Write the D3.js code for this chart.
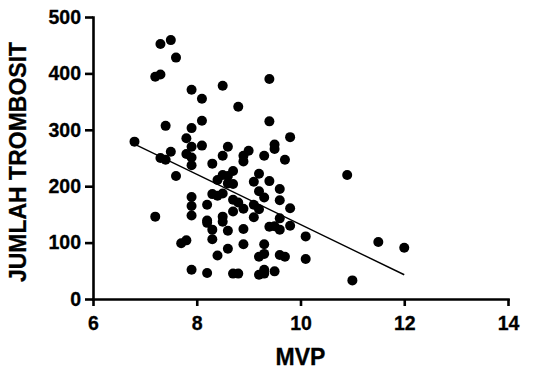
<!DOCTYPE html>
<html>
<head>
<meta charset="utf-8">
<script src="https://cdn.jsdelivr.net/npm/d3@7"></script>
<style>
  body { margin: 0; background: #fff; }
  svg { display: block; }
  .axis text { font-family: "Liberation Sans", Arial, sans-serif; font-weight: bold; font-size: 19.5px; fill: #000; stroke: #000; stroke-width: 0.3px; }
  .axis path, .axis line { stroke: #000; stroke-width: 2.6px; }
  .label { font-family: "Liberation Sans", Arial, sans-serif; font-weight: bold; font-size: 23px; fill: #000; stroke: #000; stroke-width: 0.3px; }
</style>
</head>
<body>
<div id="chart"></div>
<script>
// MPV (x) vs platelet count (y)
const mpv = [
  7.3, 7.5, 7.6, 7.2, 7.3, 7.9, 8.1, 7.4, 8.1, 7.9,
  6.8, 7.8, 7.9, 8.1, 7.5, 7.8, 7.9, 7.3, 7.4, 7.9,
  8.3, 8.5, 9.4, 8.8, 9.4, 9.8, 8.6, 8.5, 9.0, 8.9,
  8.9, 9.3, 9.5, 9.5, 9.7, 7.6, 8.4, 8.3, 8.4, 7.9,
  7.9, 7.9, 8.2, 7.2, 8.2, 8.2, 8.3, 8.3, 7.7, 7.8,
  8.4, 7.9, 8.2, 8.7, 8.6, 8.5, 8.6, 8.7, 9.2, 9.1,
  9.4, 9.6, 9.2, 9.3, 9.6, 9.8, 8.5, 8.7, 8.8, 8.9,
  9.1, 9.2, 8.7, 8.5, 8.5, 9.1, 9.6, 9.8, 9.4, 9.5,
  9.6, 8.6, 8.9, 8.9, 9.3, 8.6, 9.2, 9.3, 9.6, 9.7,
  8.7, 8.8, 9.2, 9.3, 9.3, 9.5, 10.9, 10.1, 11.5, 12.0,
  10.1, 11.0
];
const trombosit = [
  452, 459, 428, 394, 398, 371, 355, 307, 316, 303,
  279, 285, 270, 272, 261, 257, 251, 250, 247, 237,
  240, 378, 390, 341, 315, 287, 270, 254, 263, 254,
  244, 254, 274, 266, 247, 218, 211, 186, 183, 181,
  165, 148, 167, 146, 139, 135, 123, 106, 99, 104,
  77, 52, 46, 227, 218, 220, 205, 204, 222, 208,
  209, 195, 191, 180, 175, 161, 187, 176, 171, 160,
  167, 159, 155, 146, 137, 145, 143, 130, 128, 129,
  123, 121, 124, 97, 97, 89, 75, 80, 78, 75,
  45, 45, 43, 45, 52, 49, 220, 111, 101, 91,
  71, 33
];
// fitted line as drawn: y = a + b*x
const fitIntercept = 577;
const fitSlope = -44.5;

const xTicks = [6, 8, 10, 12, 14];
const yTicks = [0, 100, 200, 300, 400, 500];

const width = 535, height = 376;
const margin = { top: 17, right: 27, bottom: 77, left: 93 };

const svg = d3.select("#chart").append("svg")
  .attr("width", width)
  .attr("height", height);

const x = d3.scaleLinear().domain([6, 14]).range([margin.left, width - margin.right]);
const y = d3.scaleLinear().domain([0, 500]).range([height - margin.bottom, margin.top]);

// axes
svg.append("g")
  .attr("class", "axis")
  .attr("transform", `translate(0,${y(0)})`)
  .call(d3.axisBottom(x).tickValues(xTicks).tickSize(7).tickSizeOuter(0).tickPadding(9))
  .selectAll("text").attr("dy", "0.75em");

svg.append("g")
  .attr("class", "axis")
  .attr("transform", `translate(${x(6)},0)`)
  .call(d3.axisLeft(y).tickValues(yTicks).tickSize(8).tickSizeOuter(0).tickPadding(4));

d3.selectAll(".axis path.domain").attr("stroke-linecap", "square");

// regression line across the data range
const xMin = d3.min(mpv), xMax = d3.max(mpv);
svg.append("line")
  .attr("x1", x(xMin)).attr("y1", y(fitIntercept + fitSlope * xMin))
  .attr("x2", x(xMax)).attr("y2", y(fitIntercept + fitSlope * xMax))
  .attr("stroke", "#000")
  .attr("stroke-width", 1.4);

// points
svg.selectAll(".dot")
  .data(mpv.map((d, i) => [d, trombosit[i]]))
  .enter().append("circle")
  .attr("class", "dot")
  .attr("cx", d => x(d[0]))
  .attr("cy", d => y(d[1]))
  .attr("r", 5)
  .attr("fill", "#000");

// axis titles
svg.append("text")
  .attr("class", "label")
  .attr("x", (x(6) + x(14)) / 2)
  .attr("y", 365)
  .attr("text-anchor", "middle")
  .text("MVP");

svg.append("text")
  .attr("class", "label")
  .attr("transform", `translate(26,${(y(0) + y(500)) / 2 + 4}) rotate(-90)`)
  .attr("text-anchor", "middle")
  .text("JUMLAH TROMBOSIT");
</script>
</body>
</html>
